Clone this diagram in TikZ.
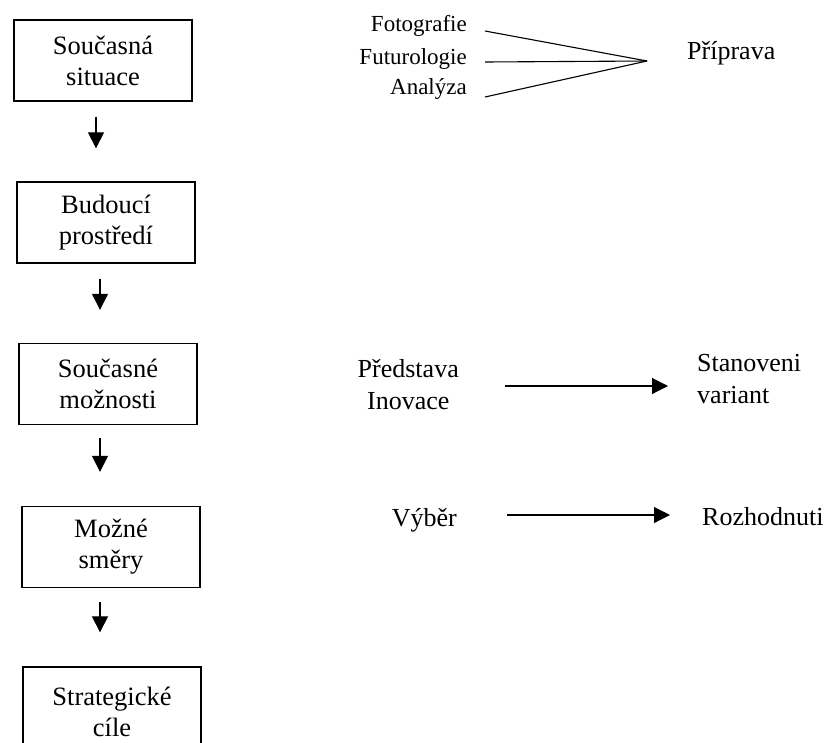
\documentclass[tikz,border=0pt]{standalone}
\usepackage{fontspec}
\setmainfont{Liberation Serif}
\usetikzlibrary{arrows.meta}

\tikzset{
  stage/.style={draw, line width=1.3pt, minimum width=178pt, minimum height=81pt,
    align=center, font=\fontsize{26.5}{31}\selectfont},
  lbl/.style={inner sep=0pt, align=left, font=\fontsize{26}{32}\selectfont},
  small/.style={inner sep=0pt, font=\fontsize{23}{28}\selectfont},
  flow/.style={line width=1.1pt, -{Triangle[length=16pt,width=16pt]}},
}

\begin{document}
\begin{tikzpicture}[x=1pt,y=-1pt]
    \useasboundingbox (0,0) rectangle (829,742);
    \clip (0,0) rectangle (829,742);

    % left column
    \node[stage] (s1) at (103,60.5) {Současná\\situace};
    \node[stage] (s2) at (106,222.5) {Budoucí\\prostředí};
    \node[stage] (s3) at (108,384) {Současné\\možnosti};
    \node[stage] (s4) at (111,547) {Možné\\směry};
    \node[stage, minimum height=90pt] (s5) at (112,712) {Strategické\\cíle};

    \draw[flow, shorten <=15pt, shorten >=33pt] ([xshift=-7pt]s1.south) -- ([xshift=-7pt]s1.south |- s2.north);
    \draw[flow, shorten <=15pt, shorten >=33pt] ([xshift=-6pt]s2.south) -- ([xshift=-6pt]s2.south |- s3.north);
    \draw[flow, shorten <=13pt, shorten >=34pt] ([xshift=-8pt]s3.south) -- ([xshift=-8pt]s3.south |- s4.north);
    \draw[flow, shorten <=14pt, shorten >=34pt] ([xshift=-11pt]s4.south) -- ([xshift=-11pt]s4.south |- s5.north);

    % preparation
    \node[small, anchor=east] (foto) at (467,26) {Fotografie};
    \node[small, anchor=east] (futu) at (467,59) {Futurologie};
    \node[small, anchor=east] (anal) at (467,89) {Analýza};
    \node[lbl, anchor=west] (prip) at (687,53) {Příprava};
    \coordinate (join) at (647,61);
    \draw[line width=1.1pt] ([xshift=18pt,yshift=-5pt]foto.east) -- (join);
    \draw[line width=1.1pt] ([xshift=18pt,yshift=-3pt]futu.east) -- (join);
    \draw[line width=1.1pt] ([xshift=18pt,yshift=-8pt]anal.east) -- (join);

    % variants
    \node[lbl, align=center, anchor=east] (pred) at (459,385) {Představa\\Inovace};
    \node[lbl, anchor=west] (stan) at (697,379) {Stanoveni\\variant};
    \draw[flow, shorten >=29pt] ([xshift=46pt,yshift=-1pt]pred.east) -- ([yshift=-1pt]pred.east -| stan.west);

    % decision
    \node[lbl, anchor=east] (vyb) at (457,520) {Výběr};
    \node[lbl, anchor=west] (rozh) at (702,517) {Rozhodnuti};
    \draw[flow, shorten >=32pt] ([xshift=50pt,yshift=5pt]vyb.east) -- ([yshift=5pt]vyb.east -| rozh.west);
\end{tikzpicture}
\end{document}
